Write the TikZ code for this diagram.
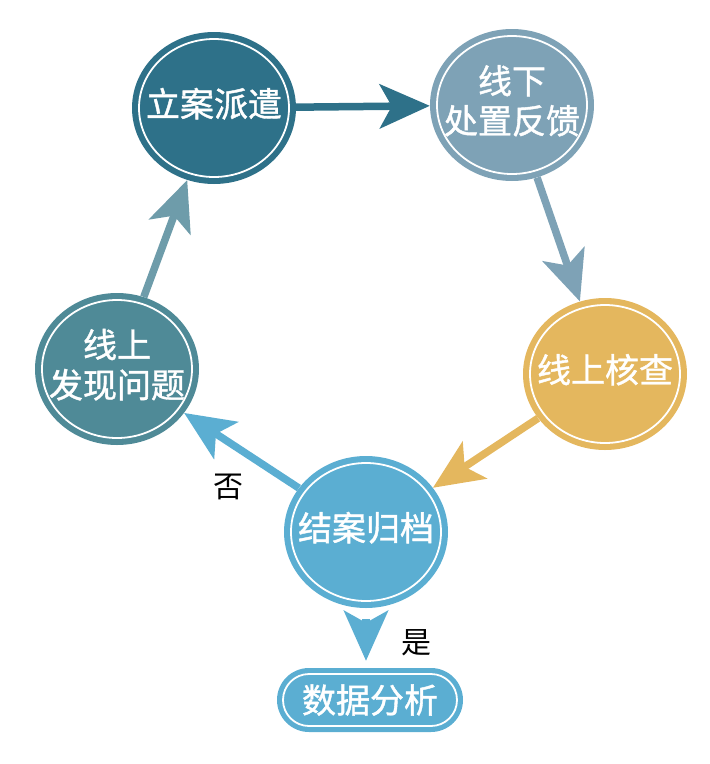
\documentclass[tikz,border=0pt]{standalone}
\usepackage{fontspec}
\newfontfamily\cjk[FakeBold=1.2]{Noto Sans CJK SC}
\newfontfamily\cjklight{Noto Sans CJK SC}
\usetikzlibrary{shapes.geometric,arrows.meta}
\definecolor{cA}{HTML}{2E7189}
\definecolor{cB}{HTML}{7EA2B6}
\definecolor{cC}{HTML}{E4B75E}
\definecolor{cD}{HTML}{4F8A97}
\definecolor{cE}{HTML}{5BAED2}
\definecolor{cF}{HTML}{6E9CAA}
\newcommand{\ctext}[1]{\makebox[0pt][c]{\begin{tabular}{@{}c@{}}#1\end{tabular}}}
\begin{document}
\begin{tikzpicture}[x=1pt,y=-1pt,
  circ/.style={ellipse, minimum width=164pt, minimum height=152pt, inner sep=0pt,
    text=white, font=\cjk\fontsize{34}{38}\selectfont,
    path picture={\draw[white,line width=1.8pt] (path picture bounding box.center) ellipse (75pt and 69pt);}},
  conn/.style={line width=7.5pt, -{Stealth[length=50pt,width=44pt,inset=12pt]}},
  lab/.style={font=\cjklight\fontsize{30}{30}\selectfont, text=black, inner sep=0pt}]
\useasboundingbox (0,0) rectangle (710,764);
\node[circ, fill=cA] (c1) at (214,108) {\ctext{立案派遣}};
\node[circ, fill=cB] (c2) at (512,105) {\ctext{线下\\处置反馈}};
\node[circ, fill=cC] (c3) at (605,374) {\ctext{线上核查}};
\node[circ, fill=cD] (c4) at (117,369) {\ctext{线上\\发现问题}};
\node[circ, fill=cE] (c5) at (366,532) {\ctext{结案归档}};
\node[rectangle, rounded corners=32pt, fill=cE, minimum width=186pt, minimum height=64pt,
  inner sep=0pt, text=white, font=\cjk\fontsize{34}{38}\selectfont,
  path picture={\draw[white,line width=1.8pt,rounded corners=26pt]
    ([shift={(6pt,-6pt)}]path picture bounding box.north west) rectangle
    ([shift={(-6pt,6pt)}]path picture bounding box.south east);}] (r) at (370,700) {数据分析};
\draw[conn, color=cA] (c1) -- (c2);
\draw[conn, color=cB] (c2) -- (c3);
\draw[conn, color=cC] (c3) -- (c5);
\draw[conn, color=cE] (c5) -- (c4);
\draw[conn, color=cF] (c4) -- (c1);
\draw[conn, color=cE, shorten <=11pt, shorten >=7pt] (c5.south) -- (c5.south |- r.north);
\node[lab] (no) at (228,487) {否};
\node[lab] (yes) at (416,643) {是};
\end{tikzpicture}
\end{document}
